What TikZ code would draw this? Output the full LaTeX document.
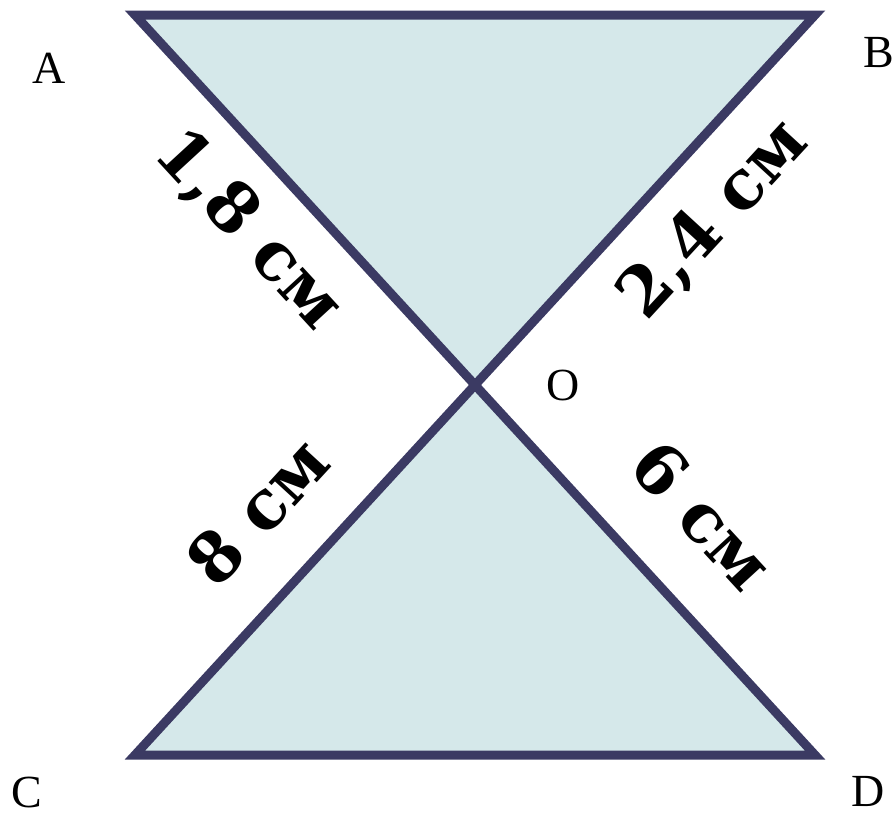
\documentclass[tikz,border=0pt]{standalone}
\usepackage{fontspec}
\setmainfont{Liberation Serif}
\newfontfamily\labfont{DejaVu Serif}
\definecolor{edgec}{HTML}{3B3A63}
\definecolor{fillc}{HTML}{D5E8EA}
\begin{document}
\begin{tikzpicture}[x=1pt,y=-1pt,
  pt/.style={font=\fontsize{46}{50}\selectfont, inner sep=0pt},
  meas/.style={font=\labfont\bfseries\fontsize{68}{72}\selectfont, inner sep=0pt},
  edge/.style={draw=edgec, line width=9pt, line join=miter, fill=fillc}]
\useasboundingbox (0,0) rectangle (895,814);
\coordinate (A) at (135,15);
\coordinate (B) at (815,15);
\coordinate (C) at (135,755);
\coordinate (D) at (815,755);
\coordinate (O) at (475,385);
\path[edge] (A) -- (B) -- (O) -- cycle;
\path[edge] (C) -- (D) -- (O) -- cycle;
\node[pt] (lA) at (49,68) {A};
\node[pt] (lB) at (879,53) {B};
\node[pt] (lC) at (27,792) {C};
\node[pt] (lD) at (868,791) {D};
\node[pt] (lO) at (563,385) {O};
\node[meas, rotate=-47.4] (mAO) at (248,230) {1,8 см};
\node[meas, rotate=47.4] (mOB) at (714,220) {2,4 см};
\node[meas, rotate=47.4] (mCO) at (257,511) {8 см};
\node[meas, rotate=-47.4] (mOD) at (703,515) {6 см};
\end{tikzpicture}
\end{document}
